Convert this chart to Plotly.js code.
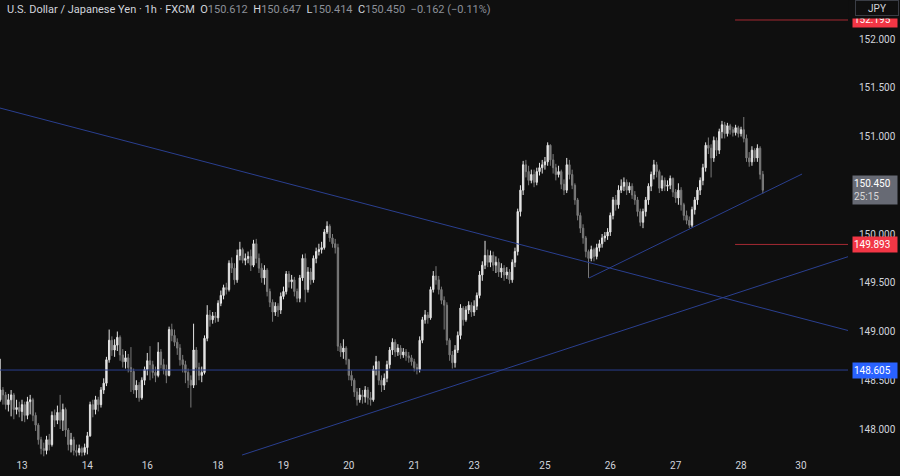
<!DOCTYPE html>
<html>
<head>
<meta charset="utf-8">
<script src="https://cdn.plot.ly/plotly-3.0.1.min.js"></script>
<style>
html,body{margin:0;padding:0;background:#0f0f0f;}
#chart{width:900px;height:476px;}
</style>
</head>
<body>
<div id="chart"></div>
<script>
// ---- DATA (USD/JPY, 1h, FXCM) ----
// bar index: hours of trading counted from 13th 00:00 (weekend hours removed)
const startIndex = -8;
const firstOpen = 148.30;
const closes = [
148.40,148.35,148.25,148.30,148.35,148.20,148.22,148.18,
148.25,148.14,148.28,148.30,148.14,148.04,147.89,147.80,147.78,147.89,
147.84,148.14,148.09,148.17,148.09,148.20,147.99,147.84,147.89,147.78,
147.76,147.80,147.76,147.81,147.93,148.25,148.20,148.30,148.25,148.40,
148.47,148.71,148.91,148.81,148.86,148.94,148.76,148.69,148.73,148.63,
148.59,148.40,148.45,148.32,148.50,148.61,148.70,148.66,148.58,148.55,
148.79,148.66,148.61,148.55,149.02,148.96,148.89,148.83,148.71,148.66,
148.58,148.50,148.45,148.81,148.63,148.55,148.58,148.93,149.17,149.12,
149.16,149.14,149.29,149.37,149.45,149.43,149.70,149.65,149.53,149.78,
149.84,149.73,149.75,149.77,149.68,149.90,149.75,149.65,149.55,149.63,
149.41,149.30,149.20,149.26,149.22,149.36,149.41,149.59,149.51,149.53,
149.41,149.34,149.55,149.75,149.43,149.61,149.53,149.75,149.82,149.84,
149.86,150.02,150.08,149.96,149.90,149.86,148.85,148.79,148.83,148.71,
148.55,148.50,148.38,148.30,148.35,148.33,148.40,148.32,148.30,148.61,
148.69,148.50,148.45,148.52,148.66,148.81,148.89,148.79,148.83,148.76,
148.79,148.75,148.73,148.69,148.63,148.61,148.91,149.12,149.17,149.14,
149.43,149.57,149.53,149.43,149.32,149.27,148.91,148.76,148.68,148.81,
148.96,149.24,149.12,149.22,149.27,149.20,149.26,149.37,149.58,149.68,
149.78,149.71,149.78,149.68,149.71,149.61,149.65,149.58,149.61,149.53,
149.71,149.82,150.23,150.45,150.71,150.64,150.55,150.61,150.53,150.64,
150.68,150.71,150.74,150.91,150.76,150.68,150.61,150.64,150.51,150.45,
150.71,150.61,150.50,150.35,150.19,150.06,149.96,149.82,149.75,149.84,
149.77,149.86,149.90,149.96,149.98,150.02,150.19,150.35,150.30,150.45,
150.49,150.53,150.45,150.49,150.40,150.35,150.23,150.12,150.23,150.35,
150.49,150.61,150.71,150.64,150.47,150.55,150.49,150.50,150.57,150.43,
150.37,150.45,150.30,150.19,150.14,150.09,150.25,150.35,150.45,150.55,
150.68,150.91,150.88,150.78,150.96,150.86,151.05,151.12,151.03,151.11,
151.07,151.04,151.09,151.03,151.07,150.98,150.78,150.74,150.86,150.78,
150.88,150.612,150.450
];
const highs = [
148.72,148.43,148.38,148.36,148.40,148.37,148.30,148.28,
148.30,148.28,148.33,148.35,148.32,148.17,148.06,147.92,147.86,147.93,
147.95,148.18,148.20,148.24,148.35,148.26,148.22,148.01,147.96,147.92,
147.84,147.84,147.82,147.85,147.97,148.28,148.30,148.34,148.33,148.43,
148.52,148.74,149.02,148.95,148.92,149.00,148.96,148.82,148.80,148.77,
148.84,148.62,148.50,148.48,148.53,148.64,148.78,148.85,148.70,148.64,
148.89,148.82,148.72,148.66,149.05,149.08,149.02,148.93,148.87,148.76,
148.70,148.62,148.55,149.08,148.84,148.68,148.64,148.96,149.27,149.22,
149.20,149.20,149.32,149.42,149.48,149.50,149.73,149.76,149.70,149.84,
149.92,149.86,149.80,149.82,149.84,149.94,149.95,149.80,149.70,149.68,
149.65,149.44,149.33,149.30,149.29,149.40,149.46,149.62,149.62,149.58,
149.56,149.44,149.58,149.79,149.80,149.66,149.65,149.78,149.86,149.90,
149.92,150.05,150.13,150.10,150.00,149.95,149.90,148.88,148.92,148.85,
148.72,148.60,148.52,148.42,148.42,148.40,148.44,148.43,148.38,148.65,
148.75,148.70,148.55,148.57,148.70,148.84,148.93,148.92,148.87,148.86,
148.83,148.82,148.79,148.76,148.72,148.67,148.95,149.15,149.22,149.20,
149.46,149.62,149.67,149.57,149.46,149.36,149.30,148.93,148.80,148.86,
149.00,149.28,149.26,149.26,149.31,149.30,149.32,149.40,149.62,149.72,
149.93,149.84,149.83,149.82,149.77,149.75,149.70,149.68,149.66,149.64,
149.74,149.86,150.26,150.50,150.75,150.76,150.70,150.66,150.66,150.68,
150.73,150.76,150.79,150.94,150.92,150.82,150.72,150.70,150.66,150.56,
150.78,150.76,150.66,150.52,150.37,150.22,150.10,149.98,149.84,149.88,
149.86,149.90,149.94,150.00,150.02,150.06,150.22,150.38,150.40,150.50,
150.56,150.58,150.56,150.53,150.52,150.44,150.38,150.26,150.26,150.38,
150.52,150.64,150.76,150.74,150.66,150.60,150.58,150.55,150.60,150.58,
150.46,150.52,150.48,150.32,150.24,150.18,150.28,150.38,150.48,150.58,
150.72,150.94,150.99,150.92,151.00,150.99,151.08,151.16,151.15,151.14,
151.13,151.10,151.12,151.11,151.10,151.20,151.02,150.84,150.90,150.88,
150.92,150.90,150.647
];
const lows = [
148.28,148.25,148.20,148.18,148.13,148.10,148.15,148.12,
148.08,148.07,148.10,148.15,148.08,147.98,147.84,147.74,147.72,147.74,
147.78,147.82,148.02,148.05,148.00,147.98,147.92,147.78,147.76,147.73,
147.72,147.73,147.72,147.73,147.74,147.92,148.12,148.15,148.18,148.22,
148.36,148.44,148.68,148.75,148.74,148.80,148.70,148.63,148.62,148.58,
148.38,148.36,148.32,148.28,148.30,148.45,148.55,148.50,148.52,148.48,
148.53,148.62,148.56,148.47,148.54,148.90,148.85,148.76,148.65,148.58,
148.47,148.42,148.22,148.42,148.45,148.50,148.48,148.56,148.90,149.05,
149.08,149.09,149.10,149.26,149.33,149.38,149.41,149.60,149.48,149.50,
149.73,149.70,149.68,149.70,149.62,149.66,149.70,149.60,149.50,149.48,
149.36,149.25,149.10,149.16,149.15,149.18,149.33,149.38,149.45,149.44,
149.36,149.30,149.30,149.52,149.30,149.40,149.48,149.50,149.70,149.78,
149.80,149.84,150.00,149.92,149.86,149.80,148.80,148.74,148.72,148.66,
148.50,148.44,148.33,148.24,148.27,148.26,148.27,148.25,148.24,148.28,
148.55,148.45,148.38,148.40,148.48,148.62,148.76,148.74,148.75,148.72,
148.73,148.70,148.68,148.65,148.59,148.56,148.58,148.88,149.08,149.08,
149.12,149.40,149.48,149.38,149.28,149.02,148.86,148.70,148.62,148.63,
148.78,148.92,149.06,149.10,149.18,149.15,149.16,149.22,149.34,149.52,
149.64,149.66,149.66,149.62,149.60,149.56,149.55,149.52,149.54,149.49,
149.50,149.66,149.78,150.18,150.40,150.58,150.50,150.52,150.48,150.50,
150.60,150.62,150.66,150.70,150.70,150.62,150.55,150.58,150.46,150.40,
150.42,150.56,150.46,150.30,150.14,150.01,149.90,149.76,149.55,149.72,
149.72,149.74,149.82,149.86,149.92,149.94,149.98,150.15,150.24,150.26,
150.42,150.44,150.40,150.42,150.36,150.30,150.18,150.08,150.06,150.18,
150.30,150.44,150.56,150.58,150.42,150.44,150.44,150.44,150.46,150.38,
150.32,150.30,150.24,150.14,150.10,150.06,150.07,150.20,150.30,150.40,
150.50,150.64,150.82,150.58,150.74,150.80,150.82,150.98,150.98,151.00,
151.02,151.00,151.01,150.99,151.00,150.94,150.74,150.69,150.70,150.74,
150.74,150.56,150.414
];
// day labels on the time axis (bar index of the first bar of each shown day)
const dayTickIndex = [0, 24, 46, 72, 96, 120, 144, 166, 192, 216, 240, 264, 286];
const dayTickText  = ['13','14','16','18','19','20','21','23','25','26','27','28','30'];
// price scale labels (150.500 sits under the last-price tag, so it is left out)
const priceTicks = [148.0, 148.5, 149.0, 149.5, 150.0, 151.0, 151.5, 152.0];

// drawings: trend lines [x0, x1] in bar index, [y0, y1] in price
const trendDownX = [-8.1, 304.0], trendDownY = [151.292, 149.005];
const trendUpLongX = [80.8, 304.0], trendUpLongY = [147.733, 149.774];
const trendUpShortX = [208.2, 286.4], trendUpShortY = [149.549, 150.615];
const supportLevel = 148.605;
const redLevels = [149.893, 152.195];
const redLevelStart = 261.8;
const lastPrice = 150.450, countdown = '25:15';
const ohlc = {o:'150.612', h:'150.647', l:'150.414', c:'150.450', chg:'\u22120.162 (\u22120.11%)'};

// ---- BUILD ----
const xs = closes.map((_, i) => startIndex + i);
const opens = [firstOpen].concat(closes.slice(0, -1));

const upCol = '#e4e4e4', downCol = '#7a7a7a';
const trace = {
  type: 'candlestick', x: xs, open: opens, high: highs, low: lows, close: closes,
  increasing: {line: {color: upCol, width: 1}, fillcolor: upCol},
  decreasing: {line: {color: downCol, width: 1}, fillcolor: downCol},
  hoverinfo: 'skip', showlegend: false
};

const blue = '#2a3f8f', darkRed = '#a52a33';
const shapes = [
  {type:'line', xref:'paper', x0:0, x1:1, yref:'y', y0:supportLevel, y1:supportLevel, line:{color:blue, width:1}},
  {type:'line', xref:'x', x0:trendDownX[0], x1:trendDownX[1], yref:'y', y0:trendDownY[0], y1:trendDownY[1], line:{color:blue, width:1}},
  {type:'line', xref:'x', x0:trendUpLongX[0], x1:trendUpLongX[1], yref:'y', y0:trendUpLongY[0], y1:trendUpLongY[1], line:{color:blue, width:1}},
  {type:'line', xref:'x', x0:trendUpShortX[0], x1:trendUpShortX[1], yref:'y', y0:trendUpShortY[0], y1:trendUpShortY[1], line:{color:blue, width:1}}
];
redLevels.forEach(v => shapes.push({type:'line', xref:'x', x0:redLevelStart, x1:320, yref:'y', y0:v, y1:v, line:{color:darkRed, width:1}}));

const F = 'Roboto, "Liberation Sans", sans-serif';
const lbl = (y, text, bg, h) => ({
  xref:'paper', x:1.0045, xanchor:'left', yref:'y', y:y, yanchor:'middle',
  text:text, showarrow:false, bgcolor:bg, width:42, height:h || 13, borderpad:1,
  align:'left', font:{family:F, size:10, color:'#ffffff'}
});
const fmt = v => v.toFixed(3);
const annotations = [
  lbl(redLevels[1], fmt(redLevels[1]), '#f23645'),
  {xref:'paper', x:1.0, xanchor:'left', yref:'paper', y:1, yanchor:'top', text:'', showarrow:false,
   bgcolor:'#0f0f0f', width:56, height:17, borderpad:0},
  {xref:'paper', x:1.0080, xanchor:'left', yref:'paper', y:1.001, yanchor:'top', text:'JPY', showarrow:false,
   bgcolor:'#0f0f0f', bordercolor:'#3a3d45', borderwidth:1, width:40, height:12, borderpad:1,
   font:{family:F, size:10, color:'#d1d4dc'}},
  lbl(lastPrice, fmt(lastPrice) + '<br><span style="color:#d8d8d8">' + countdown + '</span>', '#676a74', 26),
  lbl(redLevels[0], fmt(redLevels[0]), '#f23645'),
  lbl(supportLevel, fmt(supportLevel), '#2962ff'),
  {xref:'paper', x:0, xanchor:'left', xshift:5, yref:'paper', y:1, yanchor:'top', yshift:-1, showarrow:false,
   font:{family:F, size:11, color:'#d1d4dc'}, align:'left',
   text:'U.S. Dollar / Japanese Yen \u00b7 1h \u00b7 FXCM\u00a0\u00a0' +
        'O<span style="color:#8c8f98">' + ohlc.o + '</span>\u00a0\u00a0' +
        'H<span style="color:#8c8f98">' + ohlc.h + '</span>\u00a0\u00a0' +
        'L<span style="color:#8c8f98">' + ohlc.l + '</span>\u00a0\u00a0' +
        'C<span style="color:#8c8f98">' + ohlc.c + '</span>\u00a0\u00a0' +
        '<span style="color:#8c8f98">' + ohlc.chg + '</span>'}
];

const layout = {
  width: 900, height: 476,
  margin: {l: 0, r: 52, t: 0, b: 18},
  paper_bgcolor: '#0f0f0f', plot_bgcolor: '#0f0f0f',
  font: {family: F, color: '#d1d4dc', size: 10},
  showlegend: false,
  xaxis: {
    type: 'linear', range: [-8.078, 303.27],
    tickmode: 'array', tickvals: dayTickIndex, ticktext: dayTickText,
    showgrid: false, zeroline: false, showline: false, ticks: '',
    rangeslider: {visible: false}, fixedrange: true,
    tickfont: {family: F, size: 10, color: '#d1d4dc'}
  },
  yaxis: {
    side: 'right', range: [147.7026, 152.4],
    tickmode: 'array', tickvals: priceTicks, ticktext: priceTicks.map(fmt),
    showgrid: false, zeroline: false, showline: false,
    ticks: 'outside', ticklen: 8, tickcolor: 'rgba(0,0,0,0)',
    tickfont: {family: F, size: 10, color: '#d1d4dc'}
  },
  shapes: shapes,
  annotations: annotations
};

Plotly.newPlot('chart', [trace], layout, {staticPlot: true, displayModeBar: false});
</script>
</body>
</html>
